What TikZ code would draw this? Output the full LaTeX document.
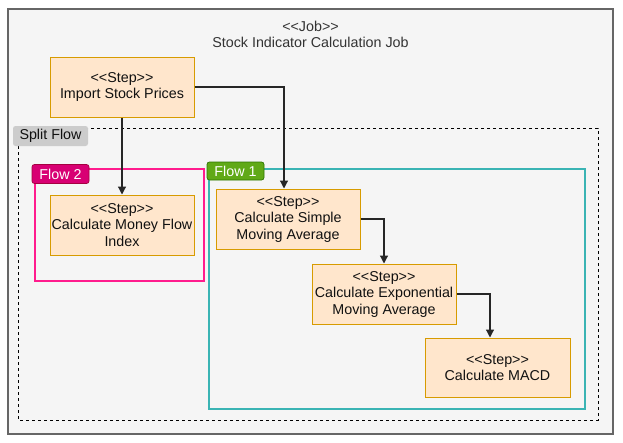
\documentclass[tikz,border=0pt]{standalone}
\usepackage{fontspec}
\setmainfont{Liberation Sans}[Ligatures=NoCommon]
\usetikzlibrary{arrows.meta,positioning}
\definecolor{jobfill}{HTML}{F5F5F5}
\definecolor{jobline}{HTML}{666666}
\definecolor{stepfill}{HTML}{FFE6CC}
\definecolor{stepline}{HTML}{D79B00}
\definecolor{pinkline}{HTML}{FF1C8D}
\definecolor{pinkfill}{HTML}{D80073}
\definecolor{pinkdark}{HTML}{A50040}
\definecolor{tealline}{HTML}{3AB4B4}
\definecolor{greenfill}{HTML}{60A917}
\definecolor{greendark}{HTML}{2D7600}
\definecolor{splitfill}{HTML}{CCCCCC}
\definecolor{txt}{HTML}{111111}
\newcommand{\stp}{\mbox{<}\mbox{<}Step\mbox{>}\mbox{>}}
\begin{document}
\begin{tikzpicture}[x=1pt,y=-1pt,
  every node/.style={font=\fontsize{14.3}{16.5}\selectfont, text=txt},
  stepbox/.style={draw=stepline, fill=stepfill, line width=1pt, inner sep=0pt, align=center},
  lbl/.style={rounded corners=2.5pt, inner sep=0pt, align=center},
  conn/.style={draw=black!85, line width=1.2pt, -{Triangle[length=8pt,width=8pt]}}]
\useasboundingbox (0,0) rectangle (623,442);
% job container
\draw[draw=jobline, fill=jobfill, line width=1.2pt] (8,9) rectangle (613,434);
\node[align=center, text=black!80] (jobtitle) at (310.5,34.5) {\mbox{<}\mbox{<}Job\mbox{>}\mbox{>}\\Stock Indicator Calculation Job};
% split flow
\draw[line width=1pt, dash pattern=on 3pt off 3pt] (18,128) rectangle (598,420);
\node[lbl, fill=splitfill, minimum width=75pt, minimum height=20pt] (splitlbl) at (50.5,136) {Split Flow};
% flow 2
\draw[draw=pinkline, line width=1.05pt] (35,169) rectangle (204,281);
\node[lbl, fill=pinkfill, draw=pinkdark, line width=0.7pt, text=white, minimum width=57pt, minimum height=19pt] (flowtwolbl) at (60.5,174) {Flow 2};
% flow 1
\draw[draw=tealline, line width=1.2pt] (209,169) rectangle (585,409);
\node[lbl, fill=greenfill, draw=greendark, line width=0.7pt, text=white, minimum width=57pt, minimum height=18pt] (flowonelbl) at (235.5,171) {Flow 1};
% steps
\node[stepbox, minimum width=144pt, minimum height=60pt] (import) at (122,87) {\stp\\Import Stock Prices};
\node[stepbox, minimum width=144pt, minimum height=60pt] (mfi) at (122,225) {\stp\\Calculate Money Flow\\Index};
\node[stepbox, minimum width=144pt, minimum height=60pt] (sma) at (288,219) {\stp\\Calculate Simple\\Moving Average};
\node[stepbox, minimum width=144pt, minimum height=60pt] (ema) at (384,294) {\stp\\Calculate Exponential\\Moving Average};
\node[stepbox, minimum width=145pt, minimum height=59pt] (macd) at (497.5,367.5) {\stp\\Calculate MACD};
% connectors
\draw[conn] (import.east) -| ([xshift=-4pt]sma.north);
\draw[conn] (import.south) -- (mfi.north);
\draw[conn] (sma.east) -| (ema.north);
\draw[conn] (ema.east) -| ([xshift=-7.5pt]macd.north);
\end{tikzpicture}
\end{document}
